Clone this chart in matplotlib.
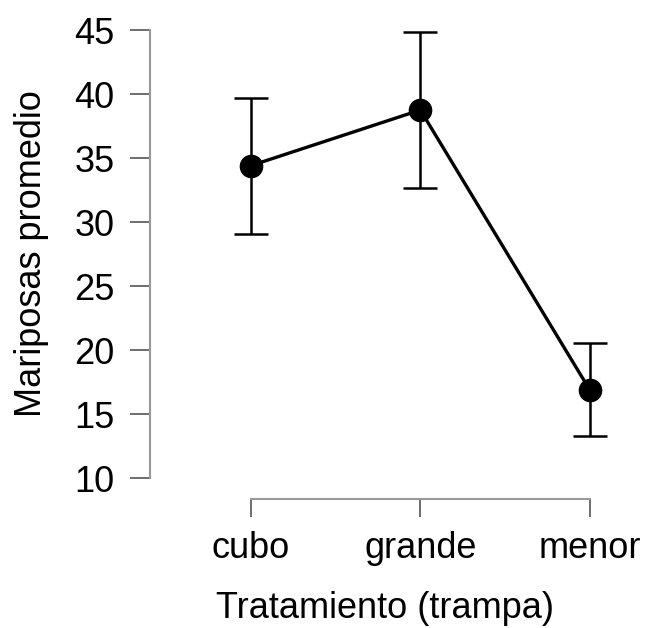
import matplotlib
matplotlib.use("Agg")
import matplotlib.pyplot as plt

categories = ["cubo", "grande", "menor"]
means = [34.4, 38.75, 16.85]
upper = [39.7, 44.85, 20.55]
lower = [29.05, 32.65, 13.25]
yticks = [10, 15, 20, 25, 30, 35, 40, 45]

plt.rcParams['font.family'] = ['Liberation Sans', 'DejaVu Sans']

W, H = 651, 628
fig = plt.figure(figsize=(W/100, H/100), dpi=100)
ax = fig.add_axes([150/W, (H-478)/H, 470/W, 448/H])

x = [1, 2, 3]
ppu = (590-250.7)/2
ax.set_xlim(1 - (250.7-150)/ppu, 3 + (620-590)/ppu)
ax.set_ylim(10, 45)

yerr = [[m - l for m, l in zip(means, lower)], [u - m for m, u in zip(means, upper)]]
ax.errorbar(x, means, yerr=yerr, fmt='none', ecolor='black', elinewidth=1.8,
            capsize=12, capthick=1.8, clip_on=False)
ax.plot(x, means, color='black', lw=2.4, clip_on=False)
ax.plot(x, means, 'o', color='black', ms=16, clip_on=False)

for s in ['top', 'right']:
    ax.spines[s].set_visible(False)
ax.spines['left'].set_bounds(10, 45)
ax.spines['left'].set_color('#999999')
ax.spines['left'].set_linewidth(1.5)
ax.spines['bottom'].set_bounds(1, 3)
ax.spines['bottom'].set_position(('outward', 15))
ax.spines['bottom'].set_color('#999999')
ax.spines['bottom'].set_linewidth(1.5)

ax.set_yticks(yticks)
ax.set_xticks(x)
ax.set_xticklabels(categories)
ax.tick_params(axis='y', length=14.4, width=1.2, color='#555555', pad=11, labelsize=26)
ax.tick_params(axis='x', length=13, width=1.2, color='#555555', pad=10, labelsize=26)

ax.set_xlabel("Tratamiento (trampa)", fontsize=26, labelpad=18)
ax.set_ylabel("Mariposas promedio", fontsize=26, labelpad=18)

fig.savefig("out.png", dpi=100)
